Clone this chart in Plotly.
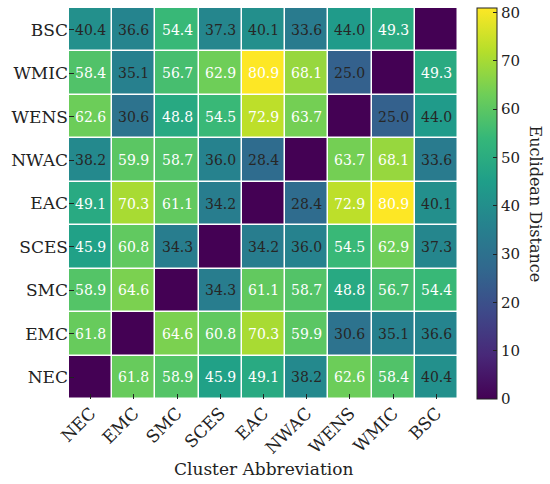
import plotly.graph_objects as go

# Cluster labels (x left->right, y bottom->top)
clusters = ['NEC', 'EMC', 'SMC', 'SCES', 'EAC', 'NWAC', 'WENS', 'WMIC', 'BSC']

# Euclidean distances, one row per cluster (same order as clusters)
row_nec = [0.0, 61.8, 58.9, 45.9, 49.1, 38.2, 62.6, 58.4, 40.4]
row_emc = [61.8, 0.0, 64.6, 60.8, 70.3, 59.9, 30.6, 35.1, 36.6]
row_smc = [58.9, 64.6, 0.0, 34.3, 61.1, 58.7, 48.8, 56.7, 54.4]
row_sces = [45.9, 60.8, 34.3, 0.0, 34.2, 36.0, 54.5, 62.9, 37.3]
row_eac = [49.1, 70.3, 61.1, 34.2, 0.0, 28.4, 72.9, 80.9, 40.1]
row_nwac = [38.2, 59.9, 58.7, 36.0, 28.4, 0.0, 63.7, 68.1, 33.6]
row_wens = [62.6, 30.6, 48.8, 54.5, 72.9, 63.7, 0.0, 25.0, 44.0]
row_wmic = [58.4, 35.1, 56.7, 62.9, 80.9, 68.1, 25.0, 0.0, 49.3]
row_bsc = [40.4, 36.6, 54.4, 37.3, 40.1, 33.6, 44.0, 49.3, 0.0]

z = [row_nec, row_emc, row_smc, row_sces, row_eac, row_nwac, row_wens, row_wmic, row_bsc]
zmax = max(max(r) for r in z)

serif = 'DejaVu Serif'
ink = '#222'

fig = go.Figure(go.Heatmap(
    z=z, x=clusters, y=clusters,
    colorscale='Viridis', zmin=0, zmax=zmax,
    xgap=1.5, ygap=1.5,
    colorbar=dict(
        thickness=20, len=1, lenmode='fraction', y=0.5, yanchor='middle',
        x=1.049, xanchor='left', xpad=0, ypad=0,
        outlinewidth=1, outlinecolor=ink,
        ticks='inside', ticklen=4, tickcolor=ink,
        tickvals=[0, 10, 20, 30, 40, 50, 60, 70, 80],
        tickfont=dict(family=serif, size=15, color=ink),
    ),
))

# cell labels, white on the higher values like the original
for i, row in enumerate(z):
    for j, v in enumerate(row):
        if v == 0:
            continue
        fig.add_annotation(
            x=clusters[j], y=clusters[i], text='%.1f' % v, showarrow=False,
            font=dict(family=serif, size=14, color='white' if v > 45 else '#262626'),
        )

# colorbar title reads top to bottom
fig.add_annotation(
    xref='paper', yref='paper', x=1.198, y=0.5, xanchor='center', yanchor='middle',
    text='Euclidean Distance', textangle=90, showarrow=False,
    font=dict(family=serif, size=16, color=ink),
)
# x axis title
fig.add_annotation(
    xref='paper', yref='paper', x=0.5, y=-0.178, xanchor='center', yanchor='middle',
    text='Cluster Abbreviation', showarrow=False,
    font=dict(family=serif, size=17, color=ink),
)

fig.update_xaxes(
    tickangle=-45, ticks='inside', ticklen=5, tickcolor=ink, showgrid=False, zeroline=False,
    automargin=False,
    tickfont=dict(family=serif, size=17, color=ink),
)
fig.update_yaxes(
    ticks='inside', ticklen=5, tickcolor=ink, showgrid=False, zeroline=False,
    automargin=False,
    tickfont=dict(family=serif, size=17, color=ink),
)

fig.update_layout(
    width=550, height=484,
    margin=dict(l=69, r=92, t=8, b=85, autoexpand=False),
    paper_bgcolor='white', plot_bgcolor='white',
)

# page body has a default 8px margin, drop it so the figure sits at 0,0
fig.write_html('out.html', config={'displayModeBar': False},
               post_script="document.body.style.margin='0';")
